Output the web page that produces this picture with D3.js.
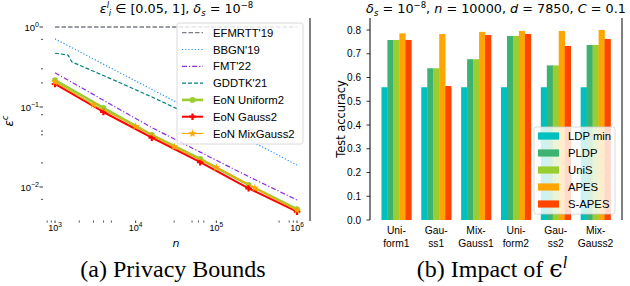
<!DOCTYPE html>
<html><head><meta charset="utf-8">
<script src="https://cdn.jsdelivr.net/npm/d3@7"></script>
<style>body{margin:0;background:#fff}svg{display:block}</style>
</head><body>
<svg id="c" width="630" height="286"></svg>
<script>
// ---------- data: left panel ----------
const nGrid = [1000, 3981, 15849, 63096, 251189, 1000000];
const efmrtt = [1, 1, 1, 1, 1, 1];
const bbgn = [0.71, 0.343, 0.166, 0.0805, 0.039, 0.0188];
const fmt22 = [0.268, 0.1216, 0.0553, 0.0273, 0.0135, 0.00688];
const gddtkN = [1000, 1450, 1620, 4800, 15000, 35000];
const gddtk = [0.47, 0.447, 0.366, 0.228, 0.137, 0.092];
const uniform2 = [0.2175, 0.0972, 0.0447, 0.0224, 0.0106, 0.0053];
const gauss2 = [0.194, 0.0866, 0.0413, 0.0204, 0.00963, 0.00491];
const mixN = [1000, 3000, 10000, 30000, 100000, 300000, 1000000];
const mixGauss2 = [0.205, 0.107, 0.0572, 0.0319, 0.0175, 0.0097, 0.0051];
const xTicksL = [1e3, 1e4, 1e5, 1e6];
const xTickExpL = ["3", "4", "5", "6"];
const yTicksL = [1, 0.1, 0.01];
const yTickExpL = ["0", "\u22121", "\u22122"];
const xMinorL = [800, 900, 2000, 3000, 4000, 5000, 30000, 50000, 60000, 70000, 600000, 800000, 900000];
const yMinorL = [0.7, 0.3, 0.2, 0.08, 0.05, 0.045, 0.02, 0.007];

// ---------- data: right panel ----------
const cats = [["Uni-", "form1"], ["Gau-", "ss1"], ["Mix-", "Gauss1"], ["Uni-", "form2"], ["Gau-", "ss2"], ["Mix-", "Gauss2"]];
const seriesNames = ["LDP min", "PLDP", "UniS", "APES", "S-APES"];
const ldpMin = [0.559, 0.559, 0.559, 0.559, 0.559, 0.559];
const pldp = [0.758, 0.639, 0.677, 0.775, 0.651, 0.737];
const unis = [0.758, 0.639, 0.677, 0.775, 0.651, 0.737];
const apes = [0.786, 0.783, 0.792, 0.796, 0.796, 0.800];
const sapes = [0.758, 0.564, 0.779, 0.783, 0.733, 0.762];
const yTicksR = [0, 0.1, 0.2, 0.3, 0.4, 0.5, 0.6, 0.7, 0.8];

const svg = d3.select("#c");
const SANS = "Liberation Sans, Arial, sans-serif";
const DJ = "DejaVu Sans, sans-serif";

// ================= LEFT PANEL =================
const L = {x0: 43, x1: 310, y0: 18, y1: 221};
const xL = d3.scaleLog().domain([1e3, 1e6]).range([55, 297]);
const yL = d3.scaleLog().domain([1, 0.01]).range([27, 187]);
const gL = svg.append("g");

gL.append("line").attr("x1", L.x1).attr("x2", L.x1).attr("y1", L.y0).attr("y2", L.y1)
  .attr("stroke", "#000").attr("stroke-width", 1);

gL.selectAll(".xmin").data(xMinorL).join("line")
  .attr("x1", d => xL(d)).attr("x2", d => xL(d)).attr("y1", L.y1 - 0.5).attr("y2", L.y1 + 1.5)
  .attr("stroke", "#000").attr("stroke-width", 0.7);
gL.selectAll(".xmaj").data(xTicksL).join("line")
  .attr("x1", d => xL(d)).attr("x2", d => xL(d)).attr("y1", L.y1 - 0.5).attr("y2", L.y1 + 2)
  .attr("stroke", "#000").attr("stroke-width", 0.8);
xTicksL.forEach((t, i) => {
  const tx = gL.append("text").attr("x", xL(t)).attr("y", 231).attr("text-anchor", "middle")
    .attr("font-family", SANS).attr("font-size", 9).attr("fill", "#000");
  tx.append("tspan").text("10");
  tx.append("tspan").attr("dy", -4).attr("font-size", 6.5).text(xTickExpL[i]);
});
gL.selectAll(".ymin").data(yMinorL).join("line")
  .attr("x1", L.x0 - 2).attr("x2", L.x0).attr("y1", d => yL(d)).attr("y2", d => yL(d))
  .attr("stroke", "#000").attr("stroke-width", 0.7);
gL.selectAll(".ymaj").data(yTicksL).join("line")
  .attr("x1", L.x0 - 3.5).attr("x2", L.x0).attr("y1", d => yL(d)).attr("y2", d => yL(d))
  .attr("stroke", "#000").attr("stroke-width", 0.8);
yTicksL.forEach((t, i) => {
  const tx = gL.append("text").attr("x", 39).attr("y", yL(t) + 3.5).attr("text-anchor", "end")
    .attr("font-family", SANS).attr("font-size", 9.5).attr("fill", "#000");
  tx.append("tspan").text("10");
  tx.append("tspan").attr("dy", -4).attr("font-size", 7).text(yTickExpL[i]);
});

const lineL = d3.line().x(d => xL(d[0])).y(d => yL(d[1]));
const zip = (a, b) => a.map((v, i) => [v, b[i]]);
const linesL = [
  {name: "EFMRTT'19", n: nGrid, v: efmrtt, color: "#7a7f87", dash: "4.5,2", w: 1.3},
  {name: "BBGN'19", n: nGrid, v: bbgn, color: "#1e90ff", dash: "1.2,2", w: 1.2},
  {name: "FMT'22", n: nGrid, v: fmt22, color: "#8a2be2", dash: "5,2,1.2,2", w: 1.2},
  {name: "GDDTK'21", n: gddtkN, v: gddtk, color: "#008080", dash: "4,2", w: 1.2},
  {name: "EoN Uniform2", n: nGrid, v: uniform2, color: "#9acd32", dash: null, w: 2.6, marker: "circle"},
  {name: "EoN Gauss2", n: nGrid, v: gauss2, color: "#ff0000", dash: null, w: 2, marker: "cross"},
  {name: "EoN MixGauss2", n: mixN, v: mixGauss2, color: "#ffa500", dash: null, w: 1.1, marker: "star"}
];
const symMap = {circle: d3.symbolCircle, cross: d3.symbolCross, star: d3.symbolStar};
const symSize = {circle: 26, cross: 24, star: 22};
linesL.forEach(s => {
  gL.append("path").attr("d", lineL(zip(s.n, s.v))).attr("fill", "none")
    .attr("stroke", s.color).attr("stroke-width", s.w)
    .attr("stroke-dasharray", s.dash).attr("stroke-linejoin", "round");
  if (s.marker) {
    gL.selectAll(null).data(zip(s.n, s.v)).join("path")
      .attr("transform", d => `translate(${xL(d[0])},${yL(d[1])})`)
      .attr("d", d3.symbol().type(symMap[s.marker]).size(symSize[s.marker]))
      .attr("fill", s.color);
  }
});

const legL = gL.append("g");
legL.append("rect").attr("x", 177).attr("y", 23).attr("width", 126).attr("height", 121)
  .attr("rx", 2).attr("fill", "#fff").attr("fill-opacity", 0.8).attr("stroke", "#d0d0d0").attr("stroke-width", 0.8);
linesL.forEach((s, i) => {
  const yy = 32.7 + i * 16.8;
  legL.append("line").attr("x1", 182).attr("x2", 203).attr("y1", yy).attr("y2", yy)
    .attr("stroke", s.color).attr("stroke-width", s.w).attr("stroke-dasharray", s.dash);
  if (s.marker) {
    legL.append("path").attr("transform", `translate(192.5,${yy})`)
      .attr("d", d3.symbol().type(symMap[s.marker]).size(symSize[s.marker])).attr("fill", s.color);
  }
  legL.append("text").attr("x", 213).attr("y", yy + 4).attr("font-family", SANS)
    .attr("font-size", 11.3).attr("fill", "#000").text(s.name);
});

const TF = 12.8;
const tL = svg.append("text").attr("x", 176.5).attr("y", 13).attr("text-anchor", "middle")
  .attr("font-family", DJ).attr("font-size", TF).attr("fill", "#000");
tL.append("tspan").attr("font-style", "italic").text("\u03b5");
tL.append("tspan").attr("dy", -5).attr("font-size", 8.5).attr("font-style", "italic").text("l");
tL.append("tspan").attr("dx", -0.3).attr("dy", 8).attr("font-size", 8.5).attr("font-style", "italic").text("i");
tL.append("tspan").attr("dy", -3).text(" \u2208 [0.05, 1], ");
tL.append("tspan").attr("font-style", "italic").text("\u03b4");
tL.append("tspan").attr("dy", 3).attr("font-size", 8.5).attr("font-style", "italic").text("s");
tL.append("tspan").attr("dy", -3).text(" = 10");
tL.append("tspan").attr("dy", -5).attr("font-size", 8.5).text("\u22128");

const yl = svg.append("text").attr("transform", "translate(13,121) rotate(-90)").attr("text-anchor", "middle")
  .attr("font-family", DJ).attr("font-size", 12).attr("fill", "#000");
yl.append("tspan").attr("font-style", "italic").text("\u03b5");
yl.append("tspan").attr("dy", -5).attr("font-size", 8).attr("font-style", "italic").text("c");
svg.append("text").attr("x", 176).attr("y", 247).attr("text-anchor", "middle")
  .attr("font-family", DJ).attr("font-size", 11).attr("font-style", "italic").text("n");

// ================= RIGHT PANEL =================
const R = {x0: 370, x1: 622, y0: 18, y1: 220};
const xR = d3.scaleLinear().domain([-0.6625, 5.6625]).range([R.x0, R.x1]);
const yR = d3.scaleLinear().domain([0, 0.8]).range([220, 30]);
const colorsR = ["#00bfbf", "#3cb371", "#9acd32", "#ffa500", "#ff4500"];
const valsR = [ldpMin, pldp, unis, apes, sapes];
const bw = 0.15;
const gR = svg.append("g");
valsR.forEach((vals, k) => {
  gR.selectAll(null).data(vals).join("rect")
    .attr("x", (d, i) => xR(i - 0.375 + k * bw))
    .attr("width", xR(bw) - xR(0) + 0.3)
    .attr("y", d => yR(d)).attr("height", d => yR(0) - yR(d))
    .attr("fill", colorsR[k]);
});
gR.append("line").attr("x1", R.x0).attr("x2", R.x0).attr("y1", R.y0).attr("y2", R.y1).attr("stroke", "#000").attr("stroke-width", 1);
gR.append("line").attr("x1", R.x1).attr("x2", R.x1).attr("y1", R.y0).attr("y2", R.y1).attr("stroke", "#000").attr("stroke-width", 1);
gR.selectAll(".yt").data(yTicksR).join("line")
  .attr("x1", R.x0 - 3.5).attr("x2", R.x0).attr("y1", d => yR(d)).attr("y2", d => yR(d))
  .attr("stroke", "#000").attr("stroke-width", 0.8);
gR.selectAll(".ytl").data(yTicksR).join("text")
  .attr("x", 361).attr("y", d => yR(d) + 3.5).attr("text-anchor", "end")
  .attr("font-family", SANS).attr("font-size", 10).attr("fill", "#000").text(d => d.toFixed(1));
cats.forEach((c, i) => {
  c.forEach((line, j) => {
    gR.append("text").attr("x", xR(i)).attr("y", 234 + j * 12.5).attr("text-anchor", "middle")
      .attr("font-family", SANS).attr("font-size", 10.3).attr("fill", "#000").text(line);
  });
});
const legR = gR.append("g");
legR.append("rect").attr("x", 534).attr("y", 127).attr("width", 81).attr("height", 87)
  .attr("rx", 2).attr("fill", "#fff").attr("fill-opacity", 0.8).attr("stroke", "#d0d0d0").attr("stroke-width", 0.8);
seriesNames.forEach((nm, k) => {
  const yy = 136 + k * 17;
  legR.append("rect").attr("x", 538).attr("y", yy - 3.6).attr("width", 21).attr("height", 7.2).attr("fill", colorsR[k]);
  legR.append("text").attr("x", 568).attr("y", yy + 4).attr("font-family", SANS).attr("font-size", 11.3)
    .attr("fill", "#000").text(nm);
});
const tR = svg.append("text").attr("x", 496).attr("y", 13).attr("text-anchor", "middle")
  .attr("font-family", DJ).attr("font-size", TF).attr("fill", "#000");
tR.append("tspan").attr("font-style", "italic").text("\u03b4");
tR.append("tspan").attr("dy", 3).attr("font-size", 8.5).attr("font-style", "italic").text("s");
tR.append("tspan").attr("dy", -3).text(" = 10");
tR.append("tspan").attr("dy", -5).attr("font-size", 8.5).text("\u22128");
tR.append("tspan").attr("dy", 5).text(", ");
tR.append("tspan").attr("font-style", "italic").text("n");
tR.append("tspan").text(" = 10000, ");
tR.append("tspan").attr("font-style", "italic").text("d");
tR.append("tspan").text(" = 7850, ");
tR.append("tspan").attr("font-style", "italic").text("C");
tR.append("tspan").text(" = 0.1");
svg.append("text").attr("transform", "translate(345,119) rotate(-90)").attr("text-anchor", "middle")
  .attr("font-family", DJ).attr("font-size", 11.4).attr("fill", "#000").text("Test accuracy");

// ================= CAPTIONS =================
const SERIF = "Liberation Serif, Times New Roman, serif";
svg.append("text").attr("x", 173).attr("y", 277).attr("text-anchor", "middle")
  .attr("font-family", SERIF).attr("font-size", 24).attr("fill", "#000").text("(a) Privacy Bounds");
const cb = svg.append("text").attr("x", 492).attr("y", 277).attr("text-anchor", "middle")
  .attr("font-family", SERIF).attr("font-size", 24).attr("fill", "#000");
cb.append("tspan").text("(b) Impact of ");
cb.append("tspan").attr("font-family", "DejaVu Serif, serif").text("\u03f5");
cb.append("tspan").attr("dy", -9).attr("font-size", 16).attr("font-style", "italic").text("l");
</script>
</body></html>
